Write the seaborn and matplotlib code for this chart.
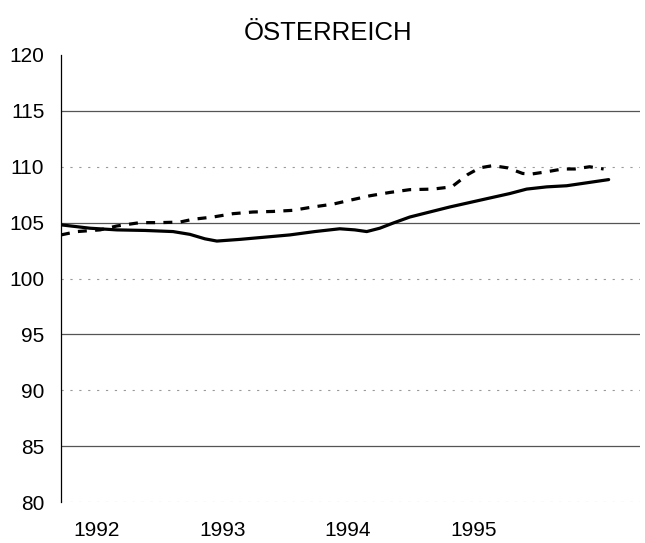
import matplotlib
matplotlib.use("Agg")
import matplotlib.pyplot as plt
import seaborn as sns
import pandas as pd

# Data (decimal year positions; tick labels mark the year)
solid_x = [1991.713, 1991.944, 1992.159, 1992.382, 1992.606, 1992.741, 1992.861, 1992.956,
           1993.139, 1993.339, 1993.538, 1993.737, 1993.936, 1994.056, 1994.151, 1994.255,
           1994.359, 1994.494, 1994.653, 1994.813, 1994.972, 1995.131, 1995.291, 1995.426,
           1995.586, 1995.745, 1995.928, 1996.080]
solid_y = [104.8, 104.5, 104.35, 104.3, 104.2, 103.95, 103.55, 103.35,
           103.5, 103.7, 103.9, 104.2, 104.45, 104.35, 104.2, 104.5,
           104.95, 105.5, 105.95, 106.4, 106.8, 107.2, 107.6, 108.0,
           108.2, 108.3, 108.6, 108.85]

dashed_x = [1991.713, 1991.841, 1992.024, 1992.159, 1992.343, 1992.502, 1992.661, 1992.765,
            1992.924, 1993.084, 1993.243, 1993.402, 1993.562, 1993.721, 1993.880, 1994.016,
            1994.175, 1994.335, 1994.494, 1994.677, 1994.829, 1994.956, 1995.052, 1995.155,
            1995.275, 1995.394, 1995.466, 1995.586, 1995.713, 1995.809, 1995.928, 1996.040]
dashed_y = [103.9, 104.2, 104.35, 104.7, 105.0, 105.0, 105.05, 105.3,
            105.5, 105.8, 105.95, 106.0, 106.1, 106.4, 106.65, 107.0,
            107.4, 107.7, 107.95, 108.0, 108.2, 109.3, 109.9, 110.1,
            109.9, 109.4, 109.35, 109.55, 109.8, 109.8, 110.0, 109.8]

year_ticks = [1992, 1993, 1994, 1995]
year_labels = ["1992", "1993", "1994", "1995"]
y_ticks = [80, 85, 90, 95, 100, 105, 110, 115, 120]
title = "ÖSTERREICH"

sns.set_style("white")
plt.rcParams['font.family'] = ['Liberation Sans', 'DejaVu Sans']

fig = plt.figure(figsize=(6.45, 5.43), dpi=100)
ax = fig.add_axes([61/645, 1 - 502/543, (640 - 61)/645, (502 - 55)/543])

# grid lines
for v in y_ticks:
    if v in (85, 95, 105, 115):
        ax.axhline(v, color="#555555", lw=0.9, zorder=0)
    elif v != 120:
        ax.axhline(v, color="#999999", lw=0.8, ls=(0, (2, 6)), zorder=0)

df_s = pd.DataFrame({"x": solid_x, "y": solid_y})
df_d = pd.DataFrame({"x": dashed_x, "y": dashed_y})
sns.lineplot(data=df_s, x="x", y="y", ax=ax, color="black", lw=2.3)
sns.lineplot(data=df_d, x="x", y="y", ax=ax, color="black", lw=2.3, dashes=False,
             linestyle=(0, (2.8, 2.6)))

ax.set_xlim(1991.713, 1996.33)
ax.set_ylim(80, 120)
ax.set_yticks(y_ticks)
ax.set_yticklabels([str(v) for v in y_ticks])
ax.set_xticks(year_ticks)
ax.set_xticklabels(year_labels)
ax.tick_params(axis="both", length=0, labelsize=15, labelcolor="black")
ax.tick_params(axis="y", pad=12)
ax.tick_params(axis="x", pad=14)
ax.set_xlabel("")
ax.set_ylabel("")
for s in ("top", "right", "bottom"):
    ax.spines[s].set_visible(False)
ax.spines["left"].set_color("black")
ax.spines["left"].set_linewidth(0.9)

fig.text(328/645, 1 - 33/543, title, ha="center", va="center", fontsize=18.5, color="black")

fig.savefig("out.png", dpi=100)
